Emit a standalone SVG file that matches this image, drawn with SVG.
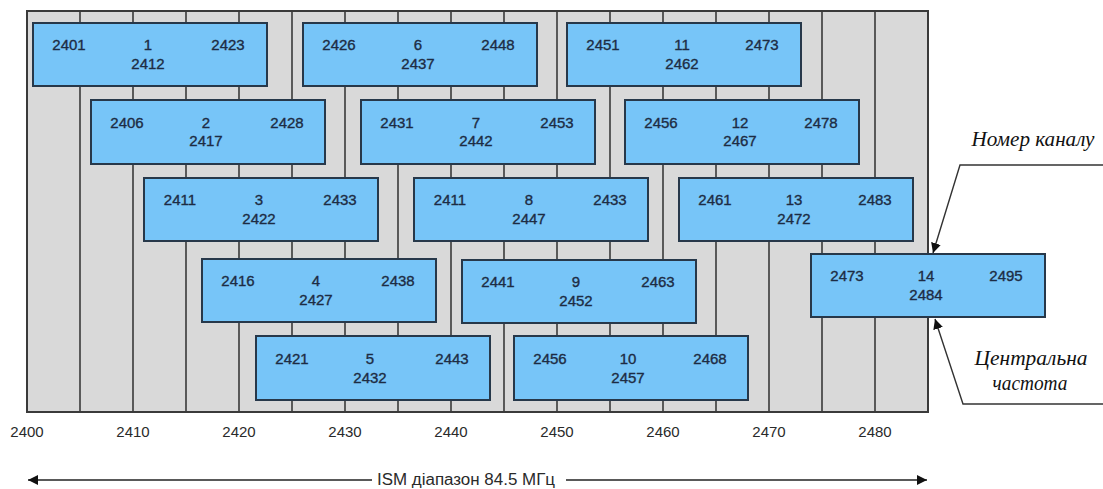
<svg xmlns="http://www.w3.org/2000/svg" width="1103" height="489" viewBox="0 0 1103 489">
<style>
.bg{fill:#d9d9d9;stroke:#3a3a3a;stroke-width:2}
.grid{stroke:#3a3a3a;stroke-width:1.6}
.box{fill:#77c5f8;stroke:#27384a;stroke-width:2}
.t{font-family:"Liberation Sans",Arial,sans-serif;font-size:15px;fill:#1d2c44;stroke:#1d2c44;stroke-width:0.35;text-anchor:middle}
.ax{font-family:"Liberation Sans",Arial,sans-serif;font-size:15px;fill:#2a2a2a;text-anchor:middle}
.lbl{font-family:"Liberation Sans",Arial,sans-serif;font-size:16px;fill:#2a2a2a}
.cap{font-family:"Liberation Serif","Times New Roman",serif;font-style:italic;font-size:20px;fill:#111;text-anchor:middle}
.ln{stroke:#222;stroke-width:1.5;fill:none}
.co{stroke:#333;stroke-width:1.4;fill:none}
</style>
<defs>
<marker id="ah" viewBox="0 0 10 10" refX="10" refY="5" markerWidth="10" markerHeight="10" markerUnits="userSpaceOnUse" orient="auto">
<path d="M0,0 L10,5 L0,10 z" fill="#111"/>
</marker>
</defs>
<g id="grid">
<rect class="bg" x="27" y="11" width="901" height="401"/>
<path class="grid" d="M80,11V412M133,11V412M186,11V412M239,11V412M292,11V412M345,11V412M398,11V412M451,11V412M504,11V412M557,11V412M610,11V412M663,11V412M716,11V412M769,11V412M822,11V412M875,11V412"/>
</g>
<g id="axis">
<text class="ax" x="27" y="437">2400</text>
<text class="ax" x="133" y="437">2410</text>
<text class="ax" x="239" y="437">2420</text>
<text class="ax" x="345" y="437">2430</text>
<text class="ax" x="451" y="437">2440</text>
<text class="ax" x="557" y="437">2450</text>
<text class="ax" x="663" y="437">2460</text>
<text class="ax" x="769" y="437">2470</text>
<text class="ax" x="875" y="437">2480</text>
</g>
<g id="ch1"><rect class="box" x="33" y="23" width="234" height="63"/><text class="t" x="69" y="50">2401</text><text class="t" x="148" y="50">1</text><text class="t" x="228" y="50">2423</text><text class="t" x="148" y="69">2412</text></g>
<g id="ch6"><rect class="box" x="303" y="23" width="234" height="63"/><text class="t" x="339" y="50">2426</text><text class="t" x="418" y="50">6</text><text class="t" x="498" y="50">2448</text><text class="t" x="418" y="69">2437</text></g>
<g id="ch11"><rect class="box" x="567" y="23" width="234" height="63"/><text class="t" x="603" y="50">2451</text><text class="t" x="682" y="50">11</text><text class="t" x="762" y="50">2473</text><text class="t" x="682" y="69">2462</text></g>
<g id="ch2"><rect class="box" x="91" y="100" width="234" height="64"/><text class="t" x="127" y="128">2406</text><text class="t" x="206" y="128">2</text><text class="t" x="287" y="128">2428</text><text class="t" x="206" y="146">2417</text></g>
<g id="ch7"><rect class="box" x="361" y="100" width="234" height="64"/><text class="t" x="397" y="128">2431</text><text class="t" x="476" y="128">7</text><text class="t" x="557" y="128">2453</text><text class="t" x="476" y="146">2442</text></g>
<g id="ch12"><rect class="box" x="625" y="100" width="234" height="64"/><text class="t" x="661" y="128">2456</text><text class="t" x="740" y="128">12</text><text class="t" x="821" y="128">2478</text><text class="t" x="740" y="146">2467</text></g>
<g id="ch3"><rect class="box" x="144" y="178" width="234" height="63"/><text class="t" x="180" y="205">2411</text><text class="t" x="259" y="205">3</text><text class="t" x="340" y="205">2433</text><text class="t" x="259" y="224">2422</text></g>
<g id="ch8"><rect class="box" x="414" y="178" width="234" height="63"/><text class="t" x="450" y="205">2411</text><text class="t" x="529" y="205">8</text><text class="t" x="610" y="205">2433</text><text class="t" x="529" y="224">2447</text></g>
<g id="ch13"><rect class="box" x="679" y="178" width="234" height="63"/><text class="t" x="715" y="205">2461</text><text class="t" x="794" y="205">13</text><text class="t" x="875" y="205">2483</text><text class="t" x="794" y="224">2472</text></g>
<g id="ch4"><rect class="box" x="202" y="259" width="234" height="63"/><text class="t" x="238" y="286">2416</text><text class="t" x="316" y="286">4</text><text class="t" x="398" y="286">2438</text><text class="t" x="316" y="305">2427</text></g>
<g id="ch9"><rect class="box" x="462" y="260" width="234" height="63"/><text class="t" x="498" y="287">2441</text><text class="t" x="576" y="287">9</text><text class="t" x="658" y="287">2463</text><text class="t" x="576" y="306">2452</text></g>
<g id="ch14"><rect class="box" x="811" y="254" width="234" height="63"/><text class="t" x="847" y="281">2473</text><text class="t" x="926" y="281">14</text><text class="t" x="1006" y="281">2495</text><text class="t" x="926" y="300">2484</text></g>
<g id="ch5"><rect class="box" x="256" y="336" width="234" height="64"/><text class="t" x="292" y="364">2421</text><text class="t" x="370" y="364">5</text><text class="t" x="452" y="364">2443</text><text class="t" x="370" y="383">2432</text></g>
<g id="ch10"><rect class="box" x="514" y="336" width="234" height="64"/><text class="t" x="550" y="364">2456</text><text class="t" x="628" y="364">10</text><text class="t" x="710" y="364">2468</text><text class="t" x="628" y="383">2457</text></g>
<g id="callout-channel"><text class="cap" x="1033" y="146" textLength="123" lengthAdjust="spacingAndGlyphs">Номер каналу</text></g>
<g id="callout-center"><text class="cap" x="1031" y="365" textLength="113" lengthAdjust="spacingAndGlyphs">Центральна</text><text class="cap" x="1030" y="390" textLength="75" lengthAdjust="spacingAndGlyphs">частота</text></g>
<g id="band-label"><text class="lbl" x="377" y="485" textLength="178" lengthAdjust="spacingAndGlyphs">ISM діапазон 84.5 МГц</text></g>
<g id="connectors">
<path class="co" d="M1103,165 H960 L933,253" marker-end="url(#ah)"/>
<path class="co" d="M1103,404 H963 L935,319" marker-end="url(#ah)"/>
<path class="ln" d="M372,480 H28" marker-end="url(#ah)"/>
<path class="ln" d="M566,480 H927" marker-end="url(#ah)"/>
</g>
</svg>
